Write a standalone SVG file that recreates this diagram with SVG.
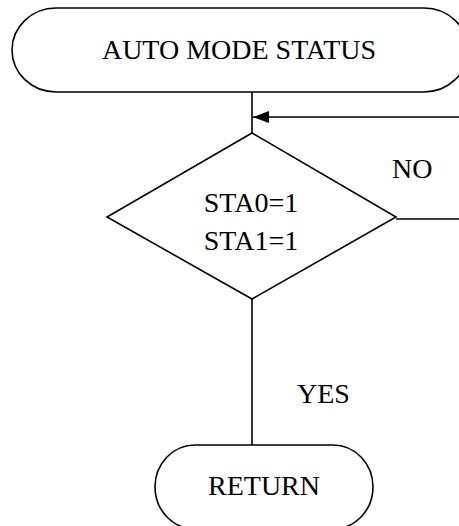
<svg xmlns="http://www.w3.org/2000/svg" width="459" height="526" viewBox="0 0 459 526">
<style>
.s{fill:#fff;stroke:#000;stroke-width:1.6}
.c{fill:none;stroke:#000;stroke-width:1.6}
text{font-family:"Liberation Serif","Times New Roman",serif;font-size:28px;fill:#000}
.m{text-anchor:middle}
</style>
<defs>
<marker id="ah" markerWidth="16" markerHeight="12" refX="16" refY="6" orient="auto" markerUnits="userSpaceOnUse">
<path d="M0,0 L16,6 L0,12 Z" fill="#000"/>
</marker>
</defs>
<rect width="459" height="526" fill="#fff"/>
<g id="connectors">
<line class="c" x1="252" y1="92" x2="252" y2="133"/>
<path class="c" d="M396,219 H470 V117 H253" marker-end="url(#ah)"/>
<line class="c" x1="252" y1="299" x2="252" y2="445"/>
<text x="392" y="178">NO</text>
<text x="297" y="403">YES</text>
</g>
<g id="start">
<rect class="s" x="12" y="8" width="456" height="84" rx="44" ry="42"/>
<text class="m" x="239" y="59">AUTO MODE STATUS</text>
</g>
<g id="decision">
<polygon class="s" points="252,133 396,217 252,299 107,217"/>
<text class="m" x="251" y="212">STA0=1</text>
<text class="m" x="251" y="250">STA1=1</text>
</g>
<g id="return">
<rect class="s" x="155" y="445" width="218" height="84" rx="40" ry="42"/>
<text class="m" x="264" y="495">RETURN</text>
</g>
</svg>
